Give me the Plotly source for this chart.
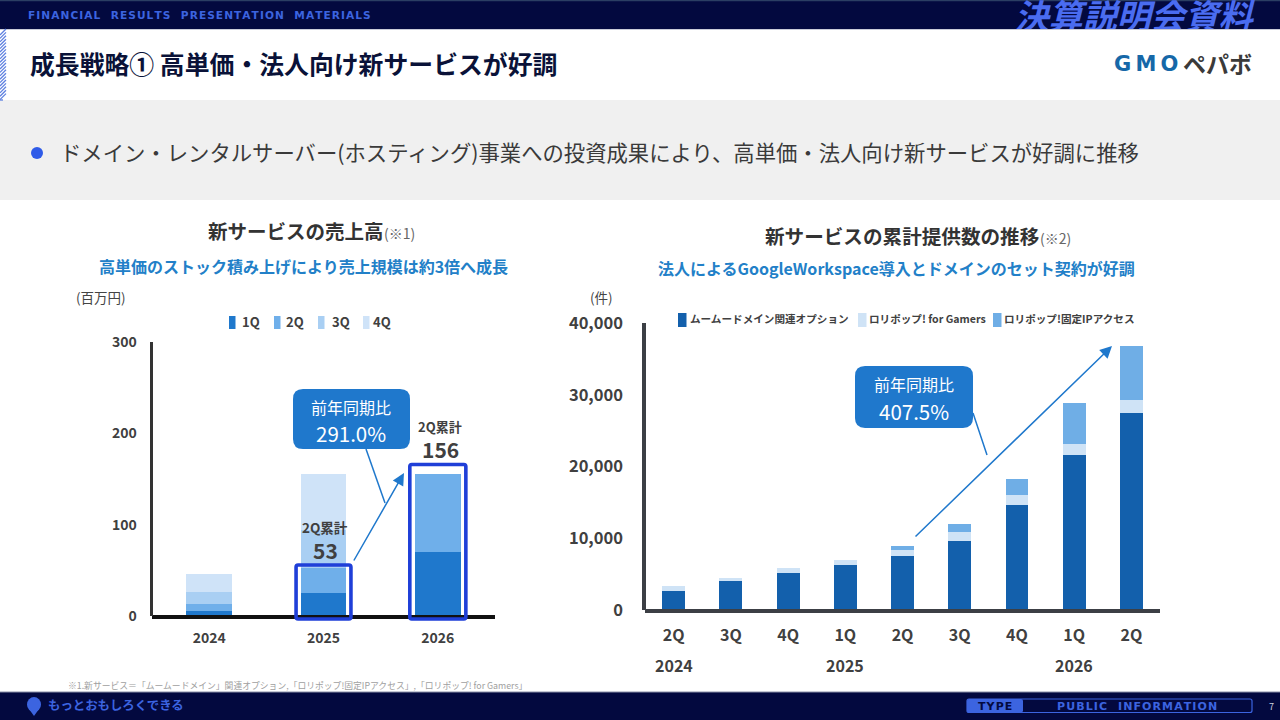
import plotly.graph_objects as go

# ---- data -------------------------------------------------------------
YEARS = ["2024", "2025", "2026"]
Q1 = [5, 25, 70]
Q2 = [8, 28, 86]
Q3 = [13, 41, None]
Q4 = [19.5, 62, None]
QUARTER_NAMES = ["1Q", "2Q", "3Q", "4Q"]
LEFT_TICKS = [0, 100, 200, 300]

PERIODS = ["2Q", "3Q", "4Q", "1Q", "2Q", "3Q", "4Q", "1Q", "2Q"]
PERIOD_YEARS = {"2024": 0, "2025": 3, "2026": 7}
MUUMUU = [2650, 4050, 5120, 6330, 7540, 9640, 14670, 21560, 27520]
GAMERS = [700, 370, 750, 700, 890, 1260, 1395, 1630, 1770]
FIXED_IP = [0, 0, 0, 0, 510, 1110, 2185, 5630, 7500]
RIGHT_TICKS = [0, 10000, 20000, 30000, 40000]
RIGHT_NAMES = ["ムームードメイン関連オプション", "ロリポップ! for Gamers", "ロリポップ!固定IPアクセス"]

# ---- style ------------------------------------------------------------
W, H = 1280, 720
JP = "Noto Sans CJK JP"
NAVY = "#03093F"
BRIGHT = "#3C64E0"
C1, C2, C3, C4 = "#1F78CC", "#6FAFEA", "#A9CFF3", "#CFE3F8"
DARK, LIGHT, MID = "#1360AC", "#CFE3F6", "#6FAEE6"
BOX = "#1F3FD8"
TXT = "#404040"

# left plot frame in page pixels
LX0, LX1, LY0, LY1 = 152, 495, 616, 342
RX0, RX1, RY0, RY1 = 645, 1160, 610, 323


def px(x):
    return x / W


def py(y):
    return 1 - y / H


def spaced(s, sep="\u200a"):
    return sep.join(s)


shapes, annos = [], []


def rect(x0, y0, x1, y1, fill, line=None, lw=0, layer="below"):
    shapes.append(dict(type="rect", xref="paper", yref="paper", x0=px(x0), x1=px(x1),
                       y0=py(y0), y1=py(y1), fillcolor=fill, layer=layer,
                       line=dict(color=line or fill, width=lw)))


def round_path(x0, y0, x1, y1, r):
    p = lambda x, y: f"{px(x):.5f},{py(y):.5f}"
    return (f"M {p(x0 + r, y0)} L {p(x1 - r, y0)} Q {p(x1, y0)} {p(x1, y0 + r)} "
            f"L {p(x1, y1 - r)} Q {p(x1, y1)} {p(x1 - r, y1)} L {p(x0 + r, y1)} "
            f"Q {p(x0, y1)} {p(x0, y1 - r)} L {p(x0, y0 + r)} Q {p(x0, y0)} {p(x0 + r, y0)} Z")


def rrect(x0, y0, x1, y1, r, fill, line=None, lw=0, layer="above"):
    shapes.append(dict(type="path", xref="paper", yref="paper", path=round_path(x0, y0, x1, y1, r),
                       fillcolor=fill, layer=layer, line=dict(color=line or fill, width=lw)))


def seg(x0, y0, x1, y1, color, lw=1.5, layer="above"):
    shapes.append(dict(type="line", xref="paper", yref="paper", x0=px(x0), x1=px(x1),
                       y0=py(y0), y1=py(y1), layer=layer, line=dict(color=color, width=lw)))


def text(x, y, s, size, color=TXT, bold=False, anchor="center", font=JP, italic=False):
    annos.append(dict(xref="paper", yref="paper", x=px(x), y=py(y - 1), text=s, showarrow=False,
                      xanchor=anchor, yanchor="middle", borderpad=0, borderwidth=0,
                      font=dict(family=font, size=size, color=color, weight=700 if bold else 400,
                                style="italic" if italic else "normal")))


def arrow(x0, y0, x1, y1, color=C1):
    annos.append(dict(xref="paper", yref="paper", x=px(x1), y=py(y1), ax=x0 - x1, ay=y0 - y1,
                      axref="pixel", ayref="pixel", text="", showarrow=True, arrowhead=2,
                      arrowsize=1.6, arrowwidth=1.5, arrowcolor=color, standoff=0))


# ---- page furniture -----------------------------------------------------
rect(0, 0, W, 29, NAVY)
rect(0, 0, W, 1.2, "#2B3E63")
rect(0, 100, W, 200, "#F0F0F0")
rect(0, 692, W, 720, NAVY)
rect(0, 691.5, W, 692.5, "#8A8FA8")
rect(0, 29, W, 29.8, "#B8BBCB")
for i in range(0, 22):
    y = 29 + i * 3.4
    seg(0, min(y + 6, 100), 6 if y + 6 <= 100 else 6 - (y + 6 - 100), y if y + 6 <= 100 else 100, "#5E80E0", 1.3, "below")

text(28, 16, spaced("FINANCIAL  RESULTS  PRESENTATION  MATERIALS"), 10.6, BRIGHT, True, "left", "DejaVu Sans")
annos.append(dict(xref="paper", yref="paper", x=px(1135), y=1, text="決算説明会資料", showarrow=False,
                  xanchor="center", yanchor="top", height=29, width=260, valign="middle", align="center",
                  borderpad=0, borderwidth=0,
                  font=dict(family=JP, size=34, color="#4A6CF0", weight=700, style="italic")))
text(30, 63.5, "成長戦略① 高単価・法人向け新サービスが好調", 24.85, "#0A1238", True, "left")
text(1146, 65, spaced("GMO", "\u2009"), 21, "#1668A8", True, "center", "DejaVu Sans")
text(1217, 64, "ペパボ", 23, "#3A3A3A", True, "center")
shapes.append(dict(type="circle", xref="paper", yref="paper", x0=px(31), x1=px(43), y0=py(159), y1=py(147),
                   fillcolor="#2F5BE8", line=dict(width=0), layer="below"))
text(60, 152, "ドメイン・レンタルサーバー(ホスティング)事業への投資成果により、高単価・法人向け新サービスが好調に推移",
     21.35, "#3A3A3A", False, "left")

text(208, 232, "新サービスの売上高", 19.5, "#333333", True, "left")
text(384, 234, "(※1)", 14, "#666666", False, "left")
text(303, 267, "高単価のストック積み上げにより売上規模は約3倍へ成長", 16, "#2280C8", True)
text(765, 237, "新サービスの累計提供数の推移", 19.6, "#333333", True, "left")
text(1040, 239, "(※2)", 14, "#666666", False, "left")
text(896, 269, "法人によるGoogleWorkspace導入とドメインのセット契約が好調", 16, "#2280C8", True)
text(76, 298, "(百万円)", 13.5, "#444444", False, "left")
text(590, 298, "(件)", 13.5, "#444444", False, "left")

text(68, 686.5, "※1.新サービス＝「ムームードメイン」関連オプション,「ロリポップ!固定IPアクセス」,「ロリポップ! for Gamers」", 8.8, "#A0A0A0", False, "left")

# footer
shapes.append(dict(type="circle", xref="paper", yref="paper", x0=px(27), x1=px(41), y0=py(712), y1=py(697),
                   fillcolor=BRIGHT, line=dict(width=0), layer="below"))
shapes.append(dict(type="path", xref="paper", yref="paper", layer="below", fillcolor=BRIGHT, line=dict(width=0),
                   path=f"M {px(29)},{py(709)} L {px(34)},{py(716)} L {px(39)},{py(709)} Z"))
text(48, 706, "もっとおもしろくできる", 12.4, BRIGHT, True, "left")
rrect(967, 699, 1252, 712.5, 2, NAVY, BRIGHT, 1.2, "below")
rrect(967, 699, 1023, 712.5, 2, BRIGHT, BRIGHT, 0, "below")
text(995, 707, spaced("TYPE"), 11, NAVY, True, "center", "DejaVu Sans")
text(1137, 707, spaced("PUBLIC  INFORMATION"), 11, BRIGHT, True, "center", "DejaVu Sans")
text(1271, 707, "7", 9, "#D0D4E0")

# ---- left legend -----------------------------------------------------------
for name, col, sx, tx in zip(QUARTER_NAMES, [C1, C2, C3, C4], [229, 274, 318, 363], [242, 286, 332, 373]):
    rect(sx, 316, sx + 6.5, 329, col)
    text(tx, 322.5, name, 13, TXT, True, "left")

# ---- right legend ----------------------------------------------------------
for name, col, sx, tx in zip(RIGHT_NAMES, [DARK, LIGHT, MID], [678, 858, 993], [690, 869, 1004]):
    rect(sx, 313, sx + 8.5, 327, col)
    text(tx, 319.5, name, 10.6, TXT, True, "left")


# ---- left callouts -----------------------------------------------------------
def lx(v):
    return LX0 + (v + 0.5) * (LX1 - LX0) / len(YEARS)


def ly(v):
    return LY0 - v * (LY0 - LY1) / LEFT_TICKS[-1]


for i, half, top in [(1, 0.24, 55.8), (2, 0.245, 165.9)]:
    rrect(lx(i - half), ly(top), lx(i + half), ly(-3.3), 2, "rgba(0,0,0,0)", BOX, 3.6)
seg(366, 449, 385, 503, C1)
arrow(353, 562, 404, 473)
rrect(293, 389, 410, 449, 10, C1)
text(351, 408, "前年同期比", 16, "#FFFFFF")
text(351, 434, "291.0%", 20.5, "#FFFFFF")
text(325, 527.5, "2Q累計", 13.5, TXT, True)
text(325, 550.5, "53", 21, TXT, True)
text(440, 427, "2Q累計", 13, TXT, True)
text(440, 450, "156", 21, TXT, True)

# ---- right callouts -----------------------------------------------------------
seg(973, 413, 987, 455, C1)
arrow(914, 538, 1112, 346)
rrect(855, 366, 973, 428, 10, C1)
text(914, 385, "前年同期比", 16, "#FFFFFF")
text(914, 411.5, "407.5%", 20.5, "#FFFFFF")
for yr, idx in PERIOD_YEARS.items():
    annos.append(dict(xref="x2", yref="paper", x=idx, y=py(664.5), text=yr, showarrow=False, xanchor="center",
                      yanchor="middle", font=dict(family=JP, size=16, color=TXT, weight=700)))

# ---- traces ----------------------------------------------------------------
fig = go.Figure()
for name, vals, col in zip(QUARTER_NAMES, [Q1, Q2, Q3, Q4], [C1, C2, C3, C4]):
    fig.add_bar(x=YEARS, y=vals, name=name, marker=dict(color=col, line=dict(width=0)), width=0.4,
                xaxis="x", yaxis="y", showlegend=False)
xs = list(range(len(PERIODS)))
for name, vals, col in zip(RIGHT_NAMES, [MUUMUU, GAMERS, FIXED_IP], [DARK, LIGHT, MID]):
    fig.add_bar(x=xs, y=vals, name=name, marker=dict(color=col, line=dict(width=0)), width=0.4,
                xaxis="x2", yaxis="y2", showlegend=False)

tick = lambda size: dict(family=JP, size=size, color=TXT, weight=700)
fig.update_layout(
    width=W, height=H, margin=dict(l=0, r=0, t=0, b=0, pad=0), autosize=False,
    paper_bgcolor="#FFFFFF", plot_bgcolor="rgba(0,0,0,0)", barmode="stack", bargap=0.6,
    shapes=shapes, annotations=annos, showlegend=False,
    xaxis=dict(domain=[px(LX0), px(LX1)], anchor="free", position=py(LY0 + 0.8), type="category",
               categoryorder="array", categoryarray=YEARS, range=[-0.5, 2.5], showgrid=False, zeroline=False,
               automargin=False, showline=True, linecolor="#111111", linewidth=3.5, ticks="",
               tickfont=tick(14), ticklabelstandoff=8),
    yaxis=dict(domain=[py(LY0), py(LY1)], anchor="free", position=px(LX0 - 1.5), range=[0, 300],
               tickvals=LEFT_TICKS, showgrid=False, zeroline=False, automargin=False, showline=True,
               linecolor="#333333", linewidth=3, ticks="", tickfont=tick(14), ticklabelstandoff=10),
    xaxis2=dict(domain=[px(RX0), px(RX1)], anchor="free", position=py(RY0 + 0.8), range=[-0.5, 8.5],
                tickvals=xs, ticktext=PERIODS, showgrid=False, zeroline=False, automargin=False, showline=True,
                linecolor="#3C3F45", linewidth=3.5, ticks="", tickfont=tick(16), ticklabelstandoff=9),
    yaxis2=dict(domain=[py(RY0), py(RY1)], anchor="free", position=px(RX0 - 1), range=[0, 40000],
                tickvals=RIGHT_TICKS, tickformat=",d", showgrid=False, zeroline=False, automargin=False,
                showline=True, linecolor="#3C3F45", linewidth=3.5, ticks="", tickfont=tick(16.5),
                ticklabelstandoff=16),
)

fig.write_html("out.html", config=dict(displayModeBar=False),
               post_script="document.body.style.margin='0';document.body.style.overflow='hidden';")
